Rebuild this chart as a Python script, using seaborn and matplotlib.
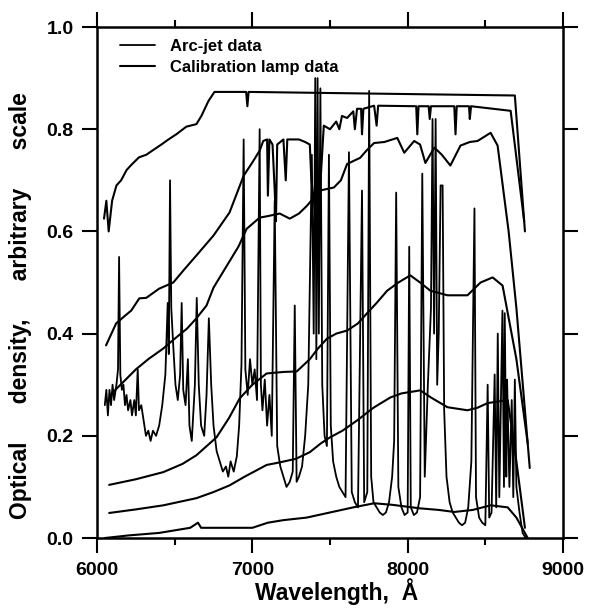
import matplotlib
matplotlib.use("Agg")
import matplotlib.pyplot as plt
import seaborn as sns
from matplotlib.ticker import MultipleLocator

# calibration lamp curves (wavelength in A, optical density)
lamp_a_wl = [6045, 6060, 6075, 6097, 6125, 6155, 6190, 6220, 6270, 6317, 6365, 6414, 6460, 6510,
             6575, 6640, 6672, 6717, 6756, 6960, 6968, 6976, 8690, 8755]
lamp_a_od = [0.625, 0.66, 0.60, 0.66, 0.69, 0.70, 0.72, 0.73, 0.745, 0.75, 0.76, 0.77, 0.78, 0.79,
             0.805, 0.81, 0.826, 0.855, 0.873, 0.873, 0.845, 0.873, 0.866, 0.60]

lamp_b_wl = [6058, 6123, 6180, 6220, 6272, 6317, 6400, 6491, 6560, 6640, 6750, 6853, 6944, 7000,
             7047, 7070, 7095, 7100, 7110, 7130, 7144, 7152, 7160, 7200, 7215, 7225, 7300, 7340,
             7370, 7380, 7420, 7460, 7500, 7540, 7560, 7577, 7610, 7650, 7660, 7674, 7700, 7706,
             7715, 7784, 7800, 7810, 8055, 8062, 8070, 8135, 8142, 8150, 8300, 8308, 8316, 8395,
             8400, 8408, 8663, 8750]
lamp_b_od = [0.377, 0.42, 0.435, 0.445, 0.469, 0.47, 0.488, 0.50, 0.525, 0.553, 0.592, 0.637,
             0.709, 0.735, 0.758, 0.777, 0.78, 0.67, 0.78, 0.77, 0.68, 0.62, 0.77, 0.78, 0.70, 0.78,
             0.78, 0.775, 0.77, 0.70, 0.60, 0.807, 0.80, 0.815, 0.80, 0.826, 0.822, 0.835, 0.80,
             0.84, 0.84, 0.79, 0.84, 0.846, 0.807, 0.846, 0.845, 0.79, 0.845, 0.845, 0.82, 0.845,
             0.845, 0.79, 0.845, 0.845, 0.82, 0.845, 0.836, 0.62]

lamp_c_wl = [6085, 6168, 6250, 6330, 6427, 6500, 6580, 6640, 6705, 6750, 6850, 6910, 6963, 7047,
             7100, 7176, 7241, 7300, 7351, 7435, 7525, 7570, 7610, 7694, 7740, 7784, 7850, 7933,
             7978, 8042, 8080, 8114, 8172, 8220, 8275, 8340, 8400, 8450, 8534, 8579, 8650, 8700,
             8786]
lamp_c_od = [0.28, 0.305, 0.33, 0.35, 0.371, 0.39, 0.41, 0.43, 0.455, 0.49, 0.54, 0.57, 0.605,
             0.627, 0.63, 0.635, 0.625, 0.635, 0.65, 0.68, 0.686, 0.70, 0.732, 0.744, 0.76, 0.773,
             0.775, 0.783, 0.754, 0.777, 0.77, 0.734, 0.764, 0.75, 0.729, 0.768, 0.775, 0.777,
             0.793, 0.768, 0.60, 0.45, 0.137]

lamp_d_wl = [6078, 6250, 6427, 6550, 6640, 6769, 6850, 6918, 7000, 7092, 7200, 7286, 7370, 7420,
             7480, 7540, 7610, 7680, 7739, 7800, 7868, 7940, 8017, 8080, 8146, 8256, 8385, 8469,
             8547, 8611, 8700, 8773]
lamp_d_od = [0.104, 0.115, 0.129, 0.145, 0.162, 0.197, 0.235, 0.273, 0.30, 0.322, 0.325, 0.326,
             0.35, 0.37, 0.39, 0.40, 0.406, 0.42, 0.44, 0.46, 0.484, 0.50, 0.514, 0.50, 0.484,
             0.475, 0.475, 0.50, 0.51, 0.494, 0.35, 0.185]

lamp_e_wl = [6078, 6250, 6427, 6640, 6750, 6853, 6950, 7092, 7176, 7280, 7370, 7440, 7500, 7580,
             7674, 7780, 7888, 7960, 8042, 8081, 8150, 8256, 8385, 8450, 8514, 8644, 8700, 8755]
lamp_e_od = [0.049, 0.056, 0.064, 0.078, 0.09, 0.103, 0.12, 0.143, 0.148, 0.155, 0.168, 0.185,
             0.197, 0.21, 0.23, 0.255, 0.275, 0.283, 0.287, 0.289, 0.275, 0.256, 0.25, 0.255,
             0.264, 0.27, 0.15, 0.02]

lamp_f_wl = [6050, 6200, 6400, 6600, 6650, 6670, 7000, 7100, 7200, 7350, 7500, 7650, 7784, 7900,
             8081, 8200, 8300, 8420, 8534, 8644, 8700, 8773]
lamp_f_od = [0.0, 0.005, 0.01, 0.02, 0.03, 0.02, 0.02, 0.03, 0.035, 0.04, 0.05, 0.06, 0.068, 0.065,
             0.058, 0.055, 0.051, 0.055, 0.064, 0.06, 0.04, 0.0]

# arc-jet emission spectrum
arc_wl = [6050, 6060, 6070, 6080, 6090, 6100, 6110, 6125, 6135, 6142, 6150, 6160, 6170, 6180,
          6190, 6200, 6215, 6225, 6240, 6250, 6262, 6270, 6285, 6300, 6315, 6330, 6345, 6360,
          6380, 6400, 6420, 6440, 6455, 6462, 6470, 6478, 6490, 6505, 6520, 6535, 6545, 6555,
          6570, 6585, 6595, 6610, 6630, 6642, 6655, 6670, 6690, 6705, 6720, 6735, 6750, 6770,
          6790, 6810, 6830, 6845, 6860, 6880, 6900, 6915, 6930, 6944, 6955, 6970, 6985, 7000,
          7015, 7030, 7047, 7055, 7065, 7080, 7095, 7110, 7125, 7144, 7160, 7180, 7200, 7220,
          7241, 7260, 7273, 7285, 7300, 7320, 7340, 7360, 7383, 7395, 7405, 7412, 7420, 7428,
          7438, 7450, 7465, 7480, 7493, 7505, 7520, 7540, 7560, 7580, 7600, 7622, 7640, 7660,
          7680, 7706, 7720, 7740, 7752, 7765, 7780, 7800, 7820, 7840, 7860, 7880, 7900, 7913,
          7926, 7940, 7960, 7980, 8000, 8010, 8020, 8040, 8060, 8080, 8094, 8110, 8130, 8150,
          8160, 8170, 8180, 8190, 8200, 8212, 8225, 8235, 8250, 8270, 8290, 8310, 8330, 8350,
          8370, 8390, 8410, 8430, 8440, 8460, 8480, 8500, 8515, 8525, 8540, 8560, 8570, 8580,
          8590, 8610, 8620, 8625, 8635, 8640, 8655, 8670, 8680, 8690, 8700, 8720, 8740, 8760]
arc_od = [0.26, 0.29, 0.24, 0.29, 0.26, 0.30, 0.27, 0.30, 0.33, 0.55, 0.32, 0.29, 0.30, 0.26,
          0.28, 0.25, 0.27, 0.24, 0.27, 0.24, 0.33, 0.25, 0.26, 0.23, 0.20, 0.21, 0.19, 0.21,
          0.20, 0.22, 0.26, 0.32, 0.46, 0.36, 0.70, 0.45, 0.38, 0.30, 0.27, 0.32, 0.46, 0.29,
          0.26, 0.35, 0.22, 0.19, 0.30, 0.47, 0.30, 0.22, 0.20, 0.28, 0.43, 0.30, 0.22, 0.17,
          0.15, 0.13, 0.14, 0.12, 0.15, 0.13, 0.16, 0.22, 0.34, 0.78, 0.33, 0.28, 0.35, 0.30,
          0.33, 0.27, 0.80, 0.30, 0.25, 0.31, 0.22, 0.28, 0.20, 0.66, 0.18, 0.14, 0.12, 0.10,
          0.11, 0.13, 0.455, 0.11, 0.12, 0.14, 0.20, 0.30, 0.75, 0.40, 0.90, 0.35, 0.90, 0.40,
          0.88, 0.30, 0.20, 0.18, 0.75, 0.22, 0.15, 0.12, 0.10, 0.09, 0.08, 0.755, 0.09, 0.07,
          0.06, 0.68, 0.07, 0.09, 0.875, 0.12, 0.07, 0.06, 0.05, 0.045, 0.05, 0.07, 0.12, 0.19,
          0.676, 0.10, 0.06, 0.045, 0.05, 0.57, 0.06, 0.045, 0.05, 0.08, 0.713, 0.12, 0.30, 0.45,
          0.82, 0.40, 0.82, 0.30, 0.40, 0.69, 0.69, 0.25, 0.12, 0.07, 0.05, 0.04, 0.03, 0.025,
          0.03, 0.06, 0.15, 0.645, 0.08, 0.04, 0.03, 0.025, 0.30, 0.04, 0.05, 0.32, 0.06, 0.40,
          0.08, 0.445, 0.10, 0.44, 0.12, 0.31, 0.10, 0.27, 0.08, 0.31, 0.10, 0.05, 0.01, 0.0]

lamp_curves = [(lamp_a_wl, lamp_a_od), (lamp_b_wl, lamp_b_od), (lamp_c_wl, lamp_c_od),
               (lamp_d_wl, lamp_d_od), (lamp_e_wl, lamp_e_od), (lamp_f_wl, lamp_f_od)]

sns.set_style("ticks")
plt.rcParams["font.family"] = ["Liberation Sans", "DejaVu Sans"]
plt.rcParams["font.weight"] = "bold"
plt.rcParams["text.color"] = "black"
plt.rcParams["axes.labelcolor"] = "black"
plt.rcParams["axes.labelweight"] = "bold"

fig = plt.figure(figsize=(5.92, 6.10), dpi=100)
ax = fig.add_axes([0.1639, 0.118, 0.7871, 0.8377])

sns.lineplot(x=arc_wl, y=arc_od, color="black", lw=1.3, sort=False, estimator=None,
             ax=ax, label="Arc-jet data")
for i, (wl, od) in enumerate(lamp_curves):
    sns.lineplot(x=wl, y=od, color="black", lw=1.5, sort=False, estimator=None, ax=ax,
                 label="Calibration lamp data" if i == 0 else None)

ax.set_xlim(6000, 9000)
ax.set_ylim(0, 1.0)
ax.xaxis.set_major_locator(MultipleLocator(1000))
ax.xaxis.set_minor_locator(MultipleLocator(500))
ax.yaxis.set_major_locator(MultipleLocator(0.2))
ax.yaxis.set_major_formatter(plt.FormatStrFormatter("%.1f"))

for s in ax.spines.values():
    s.set_visible(True)
    s.set_linewidth(1.8)
    s.set_color("black")
ax.tick_params(which="both", direction="out", top=True, right=True, width=1.5,
               labelsize=14, colors="black")
ax.tick_params(which="major", length=11, pad=6)
ax.tick_params(which="minor", length=5)

ax.set_xlabel("Wavelength,  Å", fontsize=16.5)
ax.set_ylabel("Optical      density,      arbitrary      scale", fontsize=16.5)
ax.xaxis.set_label_coords(0.515, -0.078)
ax.yaxis.set_label_coords(-0.14, 0.455)

ax.legend(loc="upper left", bbox_to_anchor=(0.035, 0.99), frameon=False, fontsize=12,
          handlelength=2.1, handletextpad=0.9, labelspacing=0.35, borderaxespad=0)

fig.savefig("out.png", dpi=100)
